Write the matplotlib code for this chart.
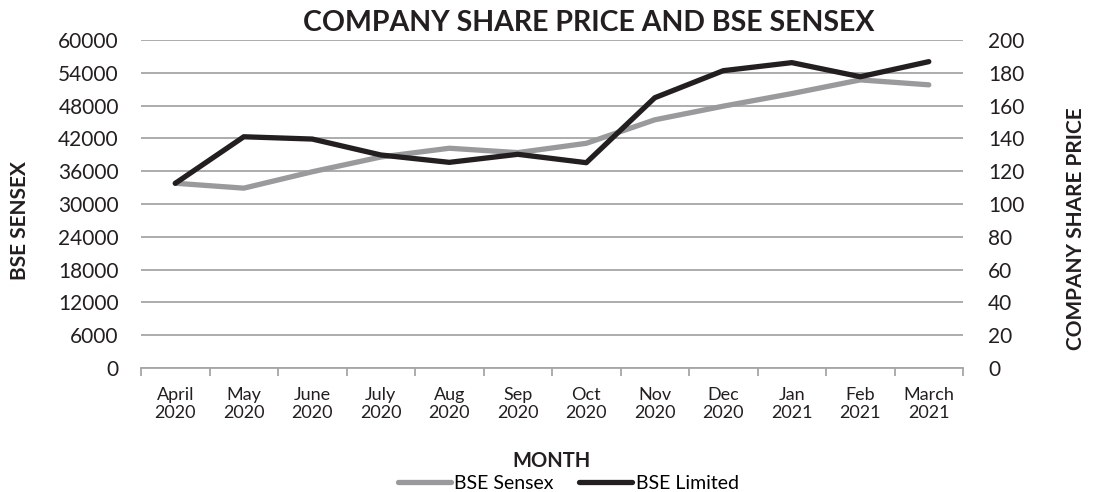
import matplotlib.pyplot as plt
from matplotlib.ticker import FixedLocator

months = ["April\n2020", "May\n2020", "June\n2020", "July\n2020", "Aug\n2020", "Sep\n2020",
          "Oct\n2020", "Nov\n2020", "Dec\n2020", "Jan\n2021", "Feb\n2021", "March\n2021"]
sensex = [33800, 32900, 35900, 38600, 40200, 39400, 41100, 45400, 47900, 50200, 52700, 51800]
company = [112.6, 141, 139.6, 129.9, 125.4, 130.3, 125.2, 164.8, 181.3, 186.2, 177.6, 186.8]

plt.rcParams['font.family'] = ['Lato', 'DejaVu Sans']
grid_col = '#a6a6a6'
txt_col = '#231f20'

fig = plt.figure(figsize=(10.95, 4.92), dpi=100)
ax = fig.add_axes([0.1288, 0.252, 0.7507, 0.6667])
ax2 = ax.twinx()

x = list(range(len(months)))
l1, = ax.plot(x, sensex, color='#9a9a9c', lw=3.8, solid_capstyle='round', label='BSE Sensex', zorder=3)
l2, = ax2.plot(x, company, color=txt_col, lw=3.8, solid_capstyle='round', label='BSE Limited', zorder=4)

ax.set_xlim(-0.5, len(months) - 0.5)
ax.set_ylim(0, 60000)
ax2.set_ylim(0, 200)
ax.set_yticks(range(0, 60001, 6000))
ax2.set_yticks(range(0, 201, 20))
ax.yaxis.grid(True, color=grid_col, lw=1.3)
ax.set_axisbelow(True)

# month labels, two lines each, with small separators between categories
ax.set_xticks(x)
ax.set_xticklabels(months, fontsize=13, linespacing=1.08, color=txt_col)
ax.xaxis.set_minor_locator(FixedLocator([i - 0.5 for i in range(len(months) + 1)]))
ax.tick_params(axis='x', which='major', length=0, pad=14)
ax.tick_params(axis='x', which='minor', length=6, color=grid_col, width=1.3)
ax.tick_params(axis='y', length=0, labelsize=15, pad=16, labelcolor=txt_col)
ax2.tick_params(axis='y', length=0, labelsize=15, pad=18, labelcolor=txt_col)

for a in (ax, ax2):
    for s in a.spines.values():
        s.set_visible(False)
ax.spines['bottom'].set_visible(True)
ax.spines['bottom'].set_color(grid_col)
ax.spines['bottom'].set_linewidth(1.3)

fig.text(0.538, 0.954, "COMPANY SHARE PRICE AND BSE SENSEX", ha='center', va='center',
         fontsize=20.5, fontweight='bold', color=txt_col)
fig.text(0.018, 0.551, "BSE SENSEX", rotation=90, ha='center', va='center',
         fontsize=15, fontweight='bold', color=txt_col)
fig.text(0.983, 0.535, "COMPANY SHARE PRICE", rotation=90, ha='center', va='center',
         fontsize=15, fontweight='bold', color=txt_col)
fig.text(0.504, 0.063, "MONTH", ha='center', va='center', fontsize=14.5, fontweight='bold',
         color=txt_col)

fig.legend(handles=[l1, l2], loc='center', bbox_to_anchor=(0.519, 0.018), ncol=2, frameon=False,
           fontsize=14, handlelength=2.7, handletextpad=0.2, columnspacing=1.3,
           borderpad=0, borderaxespad=0)

fig.savefig("out.png", dpi=100)
